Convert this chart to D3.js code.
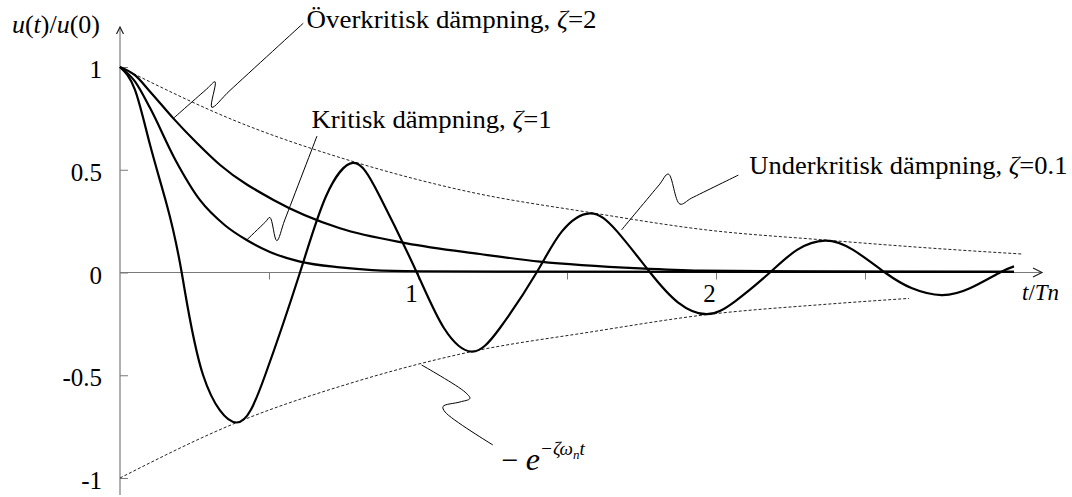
<!DOCTYPE html>
<html>
<head>
<meta charset="utf-8">
<script src="https://cdn.jsdelivr.net/npm/d3@7"></script>
<style>
  html, body { margin: 0; padding: 0; background: #fff; }
  svg text { font-family: "Liberation Serif", "Times New Roman", "DejaVu Serif", serif; }
</style>
</head>
<body>
<svg id="chart" width="1072" height="497"></svg>
<script>
// ---- Free vibration response u(t)/u(0) versus t/Tn ----

// Underdamped, zeta = 0.1
const underT = [0, 0.05, 0.101, 0.157, 0.207, 0.279, 0.392, 0.487, 0.604, 0.691, 0.782, 0.872, 0.996,
                1.087, 1.180, 1.275, 1.398, 1.483, 1.577, 1.668, 1.779, 1.872, 1.969, 2.064, 2.181,
                2.272, 2.366, 2.460, 2.567, 2.658, 2.757, 2.852, 2.953, 3.0];
const underU = [1.00, 0.89, 0.62, 0.33, 0.00, -0.50, -0.73, -0.50, 0.00, 0.37, 0.533, 0.37, 0.00,
                -0.27, -0.385, -0.27, 0.00, 0.20, 0.288, 0.20, 0.00, -0.145, -0.203, -0.14, 0.00,
                0.11, 0.155, 0.11, 0.00, -0.077, -0.11, -0.077, 0.00, 0.03];

// Critical damping, zeta = 1
const critT = [0, 0.050, 0.101, 0.185, 0.268, 0.352, 0.425, 0.503, 0.604, 0.738, 0.846, 1.007, 1.275, 3.0];
const critU = [1.0, 0.93, 0.80, 0.55, 0.353, 0.23, 0.158, 0.10, 0.053, 0.025, 0.012, 0.006, 0.004, 0.003];

// Overdamped, zeta = 2
const overT = [0, 0.050, 0.101, 0.179, 0.258, 0.336, 0.515, 0.738, 0.962, 1.208, 1.409, 1.745, 1.946, 2.282, 3.0];
const overU = [1.0, 0.96, 0.88, 0.75, 0.63, 0.523, 0.353, 0.215, 0.142, 0.09, 0.053, 0.02, 0.009, 0.005, 0.003];

// Envelope +/- e^(-zeta*wn*t)
const envUpT = [0, 0.392, 0.782, 1.180, 1.577, 1.969, 2.366, 2.757, 3.026];
const envUpU = [1.0, 0.735, 0.54, 0.39, 0.292, 0.207, 0.158, 0.115, 0.09];
const envLoT = [0, 0.392, 0.782, 1.180, 1.577, 1.969, 2.366, 2.648];
const envLoU = [-1.0, -0.73, -0.535, -0.385, -0.29, -0.205, -0.155, -0.126];

// Axis ticks
const xTickValues = [0.5, 1, 1.5, 2, 2.5];
const xTickLabels = ["", "1", "", "2", ""];
const yTickValues = [1, 0.5, 0, -0.5, -1];
const yTickLabels = ["1", "0.5", "0", "-0.5", "-1"];

// Curve labels (position in t, u units; set width of the typeset line)
const curveLabels = [
  { name: "Överkritisk dämpning, ",  z: "2",   at: [0.626, 1.19],  width: 290 },
  { name: "Kritisk dämpning, ",      z: "1",   at: [0.643, 0.703], width: 240 },
  { name: "Underkritisk dämpning, ", z: "0.1", at: [2.112, 0.479], width: 318 }
];

// Leader lines from labels to curves, in (t, u) units
const leaders = [
  [[0.179, 0.750], [0.291, 0.893], [0.319, 0.928], [0.308, 0.804], [0.369, 0.886], [0.615, 1.213]],
  [[0.425, 0.158], [0.488, 0.246], [0.503, 0.268], [0.526, 0.155], [0.553, 0.256], [0.661, 0.664]],
  [[1.683, 0.207], [1.809, 0.426], [1.840, 0.479], [1.879, 0.333], [1.918, 0.362], [2.075, 0.474]],
  [[1.012, -0.450], [1.158, -0.582], [1.174, -0.613], [1.141, -0.630], [1.084, -0.652], [1.091, -0.679], [1.251, -0.839]]
];
const envLabelAt = [1.28, -0.961];

const SERIF = "Liberation Serif, Times New Roman, DejaVu Serif, serif";
const svg = d3.select("#chart");
const x = d3.scaleLinear().domain([0, 3]).range([120, 1014]);
const y = d3.scaleLinear().domain([-1, 1]).range([478, 67]);

const axisColor = "#7a7a7a";

// ---- axes ----
const xAxis = d3.axisBottom(x)
  .tickValues(xTickValues)
  .tickSize(7)
  .tickFormat((d, i) => xTickLabels[i]);
const gx = svg.append("g").attr("transform", `translate(0,${y(0)})`).call(xAxis)
  .attr("font-family", SERIF);
gx.select(".domain").remove();
gx.selectAll(".tick line").attr("stroke", axisColor);
gx.selectAll(".tick text")
  .attr("font-size", 25)
  .attr("fill", "#000")
  .attr("dx", -7)
  .attr("y", 12);

const yAxis = d3.axisLeft(y)
  .tickValues(yTickValues)
  .tickSize(-8)
  .tickPadding(18)
  .tickFormat((d, i) => yTickLabels[i]);
const gy = svg.append("g").attr("transform", `translate(${x(0)},0)`).call(yAxis)
  .attr("font-family", SERIF);
gy.select(".domain").remove();
gy.selectAll(".tick line").attr("stroke", axisColor);
gy.selectAll(".tick text")
  .attr("font-size", 25)
  .attr("fill", "#000")
  .attr("dy", "0.42em");

// axis lines with arrow heads
const x0 = x(0), y0 = y(0);
svg.append("line").attr("x1", x0).attr("x2", 1042).attr("y1", y0).attr("y2", y0)
  .attr("stroke", axisColor).attr("stroke-width", 1.2);
svg.append("path").attr("d", `M1033,${y0 - 4.5}L1042,${y0}L1033,${y0 + 4.5}`)
  .attr("fill", "none").attr("stroke", "#222").attr("stroke-width", 1.2);
svg.append("line").attr("x1", x0).attr("x2", x0).attr("y1", 27).attr("y2", 495)
  .attr("stroke", axisColor).attr("stroke-width", 1.2);
svg.append("path").attr("d", `M${x0 - 3.5},34L${x0},27L${x0 + 3.5},34`)
  .attr("fill", "none").attr("stroke", "#222").attr("stroke-width", 1.2);

// axis titles
const yTitle = svg.append("text").attr("x", 12).attr("y", 33)
  .attr("font-family", SERIF).attr("font-size", 25).attr("fill", "#000")
  .attr("textLength", 88).attr("lengthAdjust", "spacingAndGlyphs");
yTitle.append("tspan").attr("font-style", "italic").text("u");
yTitle.append("tspan").text("(");
yTitle.append("tspan").attr("font-style", "italic").text("t");
yTitle.append("tspan").text(")/");
yTitle.append("tspan").attr("font-style", "italic").text("u");
yTitle.append("tspan").text("(0)");

const xTitle = svg.append("text").attr("x", 1022).attr("y", 300)
  .attr("font-family", SERIF).attr("font-size", 23).attr("fill", "#000").attr("font-style", "italic");
xTitle.append("tspan").text("t");
xTitle.append("tspan").attr("font-style", "normal").text("/");
xTitle.append("tspan").text("Tn");

// ---- curves ----
const zip = (ts, us) => ts.map((t, i) => [t, us[i]]);
const natural = d3.line().x(d => x(d[0])).y(d => y(d[1])).curve(d3.curveNatural);
const smooth = d3.line().x(d => x(d[0])).y(d => y(d[1])).curve(d3.curveCatmullRom.alpha(0.5));
const mono = d3.line().x(d => x(d[0])).y(d => y(d[1])).curve(d3.curveMonotoneX);

svg.append("path").attr("d", mono(zip(envUpT, envUpU)))
  .attr("fill", "none").attr("stroke", "#222").attr("stroke-width", 1).attr("stroke-dasharray", "3,2");
svg.append("path").attr("d", mono(zip(envLoT, envLoU)))
  .attr("fill", "none").attr("stroke", "#222").attr("stroke-width", 1).attr("stroke-dasharray", "3,2");

[[overT, overU], [critT, critU]].forEach(([ts, us]) => {
  svg.append("path").attr("d", mono(zip(ts, us)))
    .attr("fill", "none").attr("stroke", "#000").attr("stroke-width", 2.2);
});
svg.append("path").attr("d", natural(zip(underT, underU)))
  .attr("fill", "none").attr("stroke", "#000").attr("stroke-width", 2.2);

// ---- leader lines ----
leaders.forEach(pts => {
  svg.append("path").attr("d", smooth(pts))
    .attr("fill", "none").attr("stroke", "#000").attr("stroke-width", 1);
});

// ---- curve labels ----
curveLabels.forEach(l => {
  const t = svg.append("text").attr("x", x(l.at[0])).attr("y", y(l.at[1]))
    .attr("font-family", SERIF).attr("font-size", 25).attr("fill", "#000")
    .attr("textLength", l.width).attr("lengthAdjust", "spacingAndGlyphs");
  t.append("tspan").text(l.name);
  t.append("tspan").attr("font-style", "italic").text("ζ");
  t.append("tspan").text("=" + l.z);
});

// envelope label: − e^(−ζ ω_n t)
const el = svg.append("text").attr("x", x(envLabelAt[0])).attr("y", y(envLabelAt[1]))
  .attr("font-family", SERIF).attr("fill", "#000");
el.append("tspan").attr("font-size", 30).text("− ");
el.append("tspan").attr("font-size", 32).attr("font-style", "italic").text("e");
el.append("tspan").attr("font-size", 19).attr("font-style", "italic").attr("dy", -15).text("−ζω");
el.append("tspan").attr("font-size", 13).attr("font-style", "italic").attr("dy", 4).text("n");
el.append("tspan").attr("font-size", 19).attr("font-style", "italic").attr("dy", -4).text("t");
</script>
</body>
</html>
